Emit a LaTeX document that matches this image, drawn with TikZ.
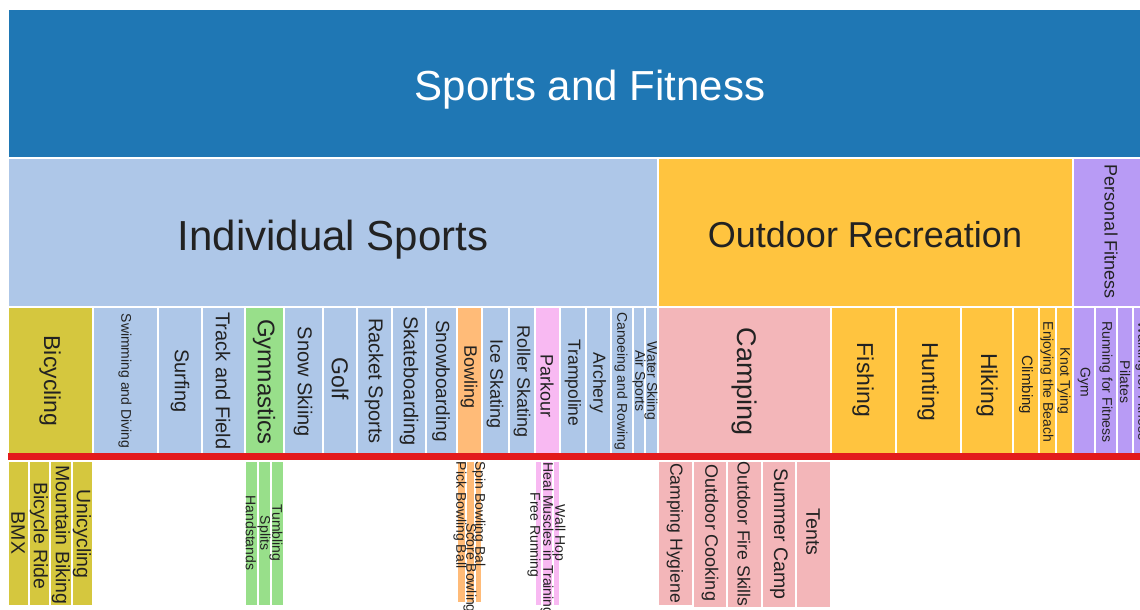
\documentclass[tikz,border=0pt]{standalone}
\usepackage{fontspec}
\setmainfont{Liberation Sans}
\definecolor{topblue}{HTML}{1F77B4}
\definecolor{indiv}{HTML}{AEC7E8}
\definecolor{outdoor}{HTML}{FFC43F}
\definecolor{personal}{HTML}{B89BF5}
\definecolor{bicyc}{HTML}{D5C73E}
\definecolor{gymgreen}{HTML}{98DF8A}
\definecolor{bowl}{HTML}{FFBB78}
\definecolor{park}{HTML}{F8B9F2}
\definecolor{camp}{HTML}{F3B6B9}
\definecolor{divider}{HTML}{E31A1C}
\definecolor{ink}{HTML}{222222}
\newcommand{\fsz}[1]{\fontsize{#1}{#1}\selectfont}
\tikzset{
  tile/.style={draw=white, line width=1.2pt},
  lab/.style={rotate=-90, inner sep=0pt, text=ink},
}
\begin{document}
\begin{tikzpicture}[x=1pt,y=-1pt]
      \useasboundingbox (0,0) rectangle (1140,610);
      \clip (0,0) rectangle (1140,610);
      % level 1
      \filldraw[tile, fill=topblue] (8,9) rectangle (1172,158);
      \node[anchor=base, inner sep=0pt, text=white, font=\fsz{42}] (root) at (590,100) {Sports and Fitness};
      % level 2
      \filldraw[tile, fill=indiv] (8,158) rectangle (658,307);
      \filldraw[tile, fill=outdoor] (658,158) rectangle (1073,307);
      \filldraw[tile, fill=personal] (1073,158) rectangle (1150,307);
      \node[anchor=base, inner sep=0pt, text=ink, font=\fsz{42}] (indiv) at (333,250) {Individual Sports};
      \node[anchor=base, inner sep=0pt, text=ink, font=\fsz{36}] (outdoor) at (865,247) {Outdoor Recreation};
      \node[lab, font=\fsz{18}] (personal) at (1111,232) {Personal Fitness};
      % level 3
      \filldraw[tile, fill=bicyc] (8,307) rectangle (93,454);
      \filldraw[tile, fill=indiv] (93,307) rectangle (158,454);
      \filldraw[tile, fill=indiv] (158,307) rectangle (202,454);
      \filldraw[tile, fill=indiv] (202,307) rectangle (245,454);
      \filldraw[tile, fill=gymgreen] (245,307) rectangle (284,454);
      \filldraw[tile, fill=indiv] (284,307) rectangle (323,454);
      \filldraw[tile, fill=indiv] (323,307) rectangle (357,454);
      \filldraw[tile, fill=indiv] (357,307) rectangle (392,454);
      \filldraw[tile, fill=indiv] (392,307) rectangle (426,454);
      \filldraw[tile, fill=indiv] (426,307) rectangle (457,454);
      \filldraw[tile, fill=bowl] (457,307) rectangle (482,454);
      \filldraw[tile, fill=indiv] (482,307) rectangle (509,454);
      \filldraw[tile, fill=indiv] (509,307) rectangle (535,454);
      \filldraw[tile, fill=park] (535,307) rectangle (560,454);
      \filldraw[tile, fill=indiv] (560,307) rectangle (586,454);
      \filldraw[tile, fill=indiv] (586,307) rectangle (611,454);
      \filldraw[tile, fill=indiv] (611,307) rectangle (633,454);
      \filldraw[tile, fill=indiv] (633,307) rectangle (645,454);
      \filldraw[tile, fill=indiv] (645,307) rectangle (658,454);
      \filldraw[tile, fill=camp] (658,307) rectangle (831,454);
      \filldraw[tile, fill=outdoor] (831,307) rectangle (896,454);
      \filldraw[tile, fill=outdoor] (896,307) rectangle (961,454);
      \filldraw[tile, fill=outdoor] (961,307) rectangle (1013,454);
      \filldraw[tile, fill=outdoor] (1013,307) rectangle (1039,454);
      \filldraw[tile, fill=outdoor] (1039,307) rectangle (1056,454);
      \filldraw[tile, fill=outdoor] (1056,307) rectangle (1073,454);
      \filldraw[tile, fill=personal] (1073,307) rectangle (1095,454);
      \filldraw[tile, fill=personal] (1095,307) rectangle (1117,454);
      \filldraw[tile, fill=personal] (1117,307) rectangle (1133,454);
      \filldraw[tile, fill=personal] (1133,307) rectangle (1150,454);
      \node[lab, font=\fsz{23}] (bicycling) at (50,381) {Bicycling};
      \node[lab, font=\fsz{14}] (swimming) at (125,381) {Swimming and Diving};
      \node[lab, font=\fsz{20}] (surfing) at (180,381) {Surfing};
      \node[lab, font=\fsz{20}] (track) at (223,381) {Track and Field};
      \node[lab, font=\fsz{24}] (gymnastics) at (264,382) {Gymnastics};
      \node[lab, font=\fsz{20}] (snowskiing) at (303,382) {Snow Skiing};
      \node[lab, font=\fsz{23}] (golf) at (340,379) {Golf};
      \node[lab, font=\fsz{20}] (racket) at (374,381) {Racket Sports};
      \node[lab, font=\fsz{20}] (skateboarding) at (409,381) {Skateboarding};
      \node[lab, font=\fsz{19}] (snowboarding) at (441,381) {Snowboarding};
      \node[lab, font=\fsz{18}] (bowling) at (469,377) {Bowling};
      \node[lab, font=\fsz{18}] (iceskating) at (495,384) {Ice Skating};
      \node[lab, font=\fsz{18}] (rollerskating) at (522,382) {Roller Skating};
      \node[lab, font=\fsz{18}] (parkour) at (547,386) {Parkour};
      \node[lab, font=\fsz{17.5}] (trampoline) at (573,383) {Trampoline};
      \node[lab, font=\fsz{17.5}] (archery) at (598,383) {Archery};
      \node[lab, font=\fsz{14}] (canoeing) at (621,381) {Canoeing and Rowing};
      \node[lab, font=\fsz{14}] (airsports) at (639,381) {Air Sports};
      \node[lab, font=\fsz{14}] (waterskiing) at (651,381) {Water Skiing};
      \node[lab, font=\fsz{27}] (camping) at (744,382) {Camping};
      \node[lab, font=\fsz{23}] (fishing) at (863,380) {Fishing};
      \node[lab, font=\fsz{23}] (hunting) at (928,382) {Hunting};
      \node[lab, font=\fsz{23}] (hiking) at (987,385) {Hiking};
      \node[lab, font=\fsz{15}] (climbing) at (1026,385) {Climbing};
      \node[lab, font=\fsz{14}] (beach) at (1047,382) {Enjoying the Beach};
      \node[lab, font=\fsz{14}] (knots) at (1064,381) {Knot Tying};
      \node[lab, font=\fsz{14}] (gym) at (1084,382) {Gym};
      \node[lab, font=\fsz{14}] (running) at (1106,382) {Running for Fitness};
      \node[lab, font=\fsz{14}] (pilates) at (1125,382) {Pilates};
      \node[lab, font=\fsz{14}] (walking) at (1142,381) {Walking for Fitness};
      % divider
      \fill[divider] (8,453) rectangle (1150,460);
      % level 4
      \filldraw[tile, fill=bicyc] (8,461) rectangle (29,606);
      \filldraw[tile, fill=bicyc] (29,461) rectangle (50,606);
      \filldraw[tile, fill=bicyc] (50,461) rectangle (72,606);
      \filldraw[tile, fill=bicyc] (72,461) rectangle (93,606);
      \filldraw[tile, fill=gymgreen] (245,461) rectangle (258,606);
      \filldraw[tile, fill=gymgreen] (258,461) rectangle (271,606);
      \filldraw[tile, fill=gymgreen] (271,461) rectangle (284,606);
      \filldraw[tile, fill=bowl] (457,461) rectangle (466,603);
      \filldraw[tile, fill=bowl] (466,461) rectangle (475,603);
      \filldraw[tile, fill=bowl] (475,461) rectangle (482,603);
      \filldraw[tile, fill=park] (535,461) rectangle (542,606);
      \filldraw[tile, fill=park] (542,461) rectangle (553,606);
      \filldraw[tile, fill=park] (553,461) rectangle (560,606);
      \filldraw[tile, fill=camp] (658,461) rectangle (693,606);
      \filldraw[tile, fill=camp] (693,461) rectangle (727,608);
      \filldraw[tile, fill=camp] (727,461) rectangle (762,608);
      \filldraw[tile, fill=camp] (762,461) rectangle (796,608);
      \filldraw[tile, fill=camp] (796,461) rectangle (831,608);
      \node[lab, font=\fsz{19.5}] (bmx) at (18,533) {BMX};
      \node[lab, font=\fsz{19.5}] (ride) at (39,536) {Bicycle Ride};
      \node[lab, font=\fsz{19.5}] (mountain) at (61,535) {Mountain Biking};
      \node[lab, font=\fsz{19.5}] (unicycling) at (82,534) {Unicycling};
      \node[lab, font=\fsz{14}] (handstands) at (251,533) {Handstands};
      \node[lab, font=\fsz{14}] (splits) at (264,533) {Splits};
      \node[lab, font=\fsz{14}] (tumbling) at (276,533) {Tumbling};
      \node[lab, font=\fsz{14}] (pick) at (460,515) {Pick Bowling Ball};
      \node[lab, font=\fsz{14}] (score) at (470,568) {Score Bowling};
      \node[lab, font=\fsz{14}] (spin) at (479,514) {Spin Bowling Bal};
      \node[lab, font=\fsz{14}] (freerun) at (534,535) {Free Running};
      \node[lab, font=\fsz{14}] (heal) at (547,539) {Heal Muscles in Training};
      \node[lab, font=\fsz{14}] (wallhop) at (559,533) {Wall Hop};
      \node[lab, font=\fsz{17.6}] (hygiene) at (675,533) {Camping Hygiene};
      \node[lab, font=\fsz{18}] (cooking) at (710,533) {Outdoor Cooking};
      \node[lab, font=\fsz{17.6}] (fireskills) at (744,534) {Outdoor Fire Skills};
      \node[lab, font=\fsz{19.6}] (summercamp) at (779,534) {Summer Camp};
      \node[lab, font=\fsz{19.6}] (tents) at (813,532) {Tents};
    \end{tikzpicture}
\end{document}
